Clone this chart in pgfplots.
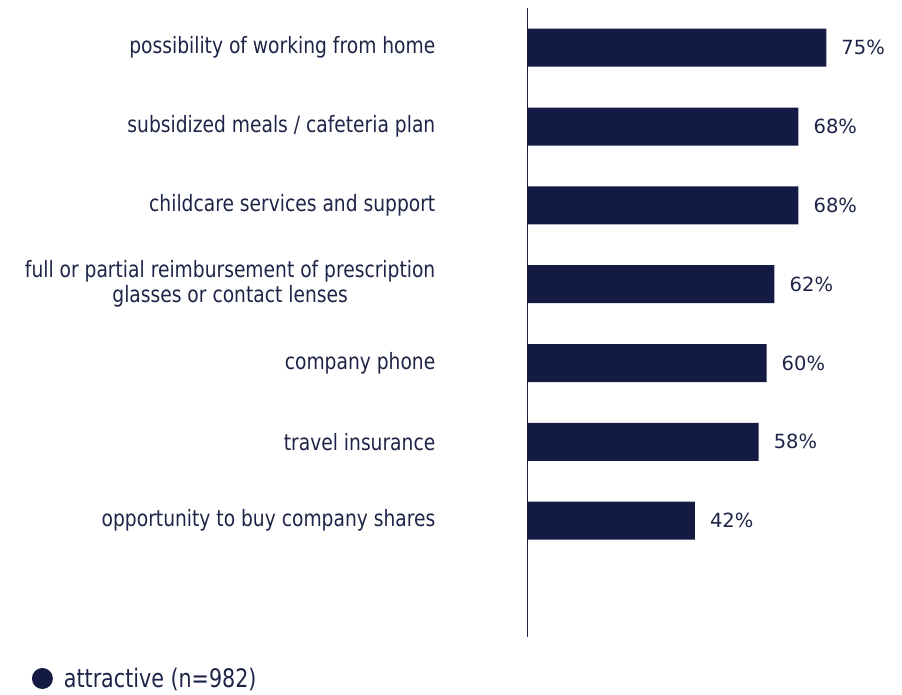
\documentclass[border=0pt]{standalone}
\usepackage{fontspec}
\setmainfont{DejaVu Sans}
\newfontfamily\labfont{DejaVu Sans}[FakeStretch=0.83]
\newfontfamily\legfont{DejaVu Sans}[FakeStretch=0.81]
\usepackage{pgfplots}
\pgfplotsset{compat=1.18}
\definecolor{barc}{HTML}{131B45}
\definecolor{txt}{HTML}{1E2447}
\begin{document}
\begin{tikzpicture}
\useasboundingbox (-527.5pt,-57.7pt) rectangle (374.5pt,637.3pt);
\begin{axis}[
  at={(0,0)}, anchor=south west,
  scale only axis, width=374.5pt, height=629pt,
  xmin=0, xmax=94, ymin=-0.5, ymax=7.48,
  y dir=reverse,
  xbar, bar width=38pt,
  axis y line=left, axis x line=none,
  axis line style={-, color=txt, line width=0.8pt},
  ytick={0,...,6}, major tick length=0pt,
  yticklabels={possibility of working from home, subsidized meals / cafeteria plan, childcare services and support, {full or partial reimbursement of prescription\\glasses or contact lenses}, company phone, travel insurance, opportunity to buy company shares},
  yticklabel style={align=center, font=\labfont\fontsize{22.5}{25}\selectfont, text=txt, inner sep=0pt, anchor=east, xshift=-92pt},
  clip=false,
  nodes near coords={\pgfmathprintnumber[assume math mode=true]{\pgfplotspointmeta}\%},
  nodes near coords style={anchor=west, inner sep=0pt, xshift=15pt, font=\fontsize{19.5}{22}\selectfont, text=txt},
  legend style={at={(-1.3239,-0.0655)}, anchor=west, draw=none, fill=none, inner sep=0pt, column sep=11pt,
    nodes={inner sep=0pt, font=\legfont\fontsize{25.5}{28}\selectfont, text=txt}},
]
\addplot[fill=barc, draw=none, legend image code/.code={\fill[barc] (10.5pt,0pt) circle (10.5pt);}] coordinates {(75,0) (68,1) (68,2) (62,3) (60,4) (58,5) (42,6)};
\addlegendentry{attractive (n=982)}
\end{axis}
\end{tikzpicture}
\end{document}
